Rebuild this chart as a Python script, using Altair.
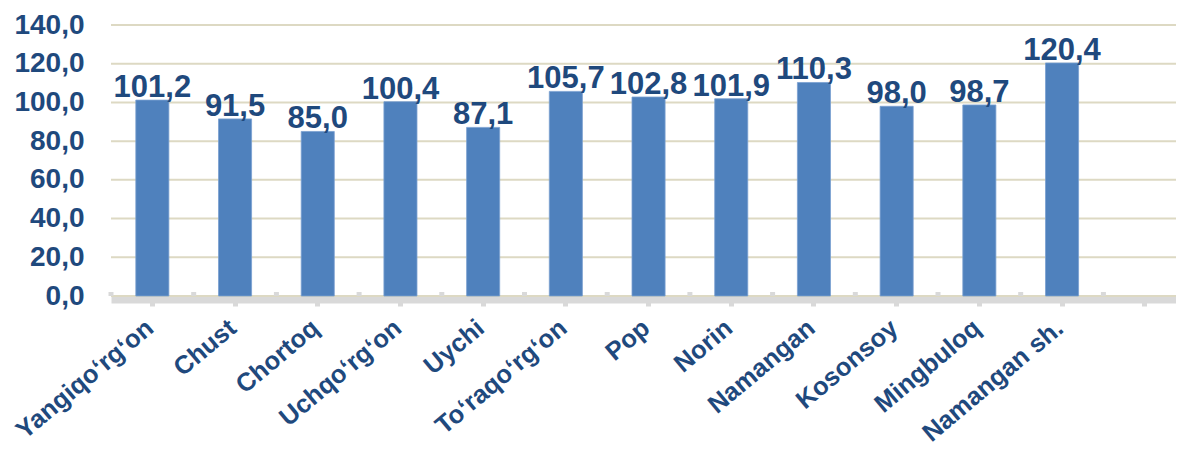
import altair as alt
import pandas as pd

categories = ["Yangiqo‘rg‘on", "Chust", "Chortoq", "Uchqo‘rg‘on", "Uychi",
              "To‘raqo‘rg‘on", "Pop", "Norin", "Namangan", "Kosonsoy",
              "Mingbuloq", "Namangan sh."]
values = [101.2, 91.5, 85.0, 100.4, 87.1, 105.7, 102.8, 101.9, 110.3, 98.0, 98.7, 120.4]
y_ticks = [0, 20, 40, 60, 80, 100, 120, 140]

domain = categories + [" "]

W = 1065
H = 271
n = len(domain)
pi = 0.6
step = 82.7
po = ((W / step) - n + pi) / 2
align = (step * pi / 2) / (step * 2 * po)

FONT = "Liberation Sans"
TXT = "#1F497D"
BAR = "#4F81BD"
AXG = "#D9D9D9"

df = pd.DataFrame({"cat": categories, "val": values})
stub_df = pd.DataFrame({"cat": domain})
grid_df = pd.DataFrame({"v": y_ticks})

xscale = alt.Scale(domain=domain, paddingInner=pi, paddingOuter=po, align=align)
yscale = alt.Scale(domain=[0, 140], nice=False)

xaxis = alt.Axis(title=None, labelAngle=-40, labelAlign="right", labelBaseline="top",
                 labelFont=FONT, labelFontSize=25.5, labelLimit=400,
                 labelFontWeight="bold", labelColor=TXT, domainColor=AXG,
                 domainWidth=7, tickColor=AXG, tickWidth=5, tickSize=6.5,
                 offset=3.5, labelPadding=9, labelOffset=-10,
                 labelOverlap=False, labelBound=False, labelFlush=False)
yaxis = alt.Axis(title=None, values=y_ticks, tickCount=8, grid=False, domain=False, ticks=False,
                 labelFont=FONT, labelFontSize=28, labelFontWeight="bold", labelColor=TXT,
                 labelPadding=27, labelOverlap=False, labelBound=False, labelFlush=False,
                 labelExpr="replace(format(datum.value, '.1f'), '.', ',')")

grid = alt.Chart(grid_df).mark_rule(color="#DDD9C3", strokeWidth=2).encode(
    y=alt.Y("v:Q", scale=yscale, axis=yaxis),
    x=alt.value(0),
    x2=alt.value(W),
)

bars = alt.Chart(df).mark_bar(color=BAR, stroke="#7A9FD0", strokeWidth=0.8).encode(
    x=alt.X("cat:N", sort=domain, scale=xscale, axis=xaxis),
    y=alt.Y("val:Q", scale=yscale, axis=yaxis),
)

labels = alt.Chart(df).transform_calculate(
    lab="replace(format(datum.val, '.1f'), '.', ',')"
).mark_text(baseline="alphabetic", dy=-3, font=FONT, fontSize=31, fontWeight="bold", color=TXT).encode(
    x=alt.X("cat:N", sort=domain, scale=xscale, axis=xaxis),
    y=alt.Y("val:Q", scale=yscale, axis=yaxis),
    text="lab:N",
)

stubs = alt.Chart(stub_df).mark_rule(color=AXG, strokeWidth=5, xOffset=-step / 2).encode(
    x=alt.X("cat:N", sort=domain, scale=xscale, axis=xaxis),
    y=alt.value(H - 4),
    y2=alt.value(H),
)

chart = alt.layer(grid, bars, stubs, labels).properties(
    width=W, height=H,
    autosize=alt.AutoSizeParams(type="none"),
    padding={"left": 103, "top": 17, "right": 0, "bottom": 153},
    background="white",
).configure_view(stroke=None)

chart.save("out.html", embed_options={"renderer": "svg", "actions": False})
